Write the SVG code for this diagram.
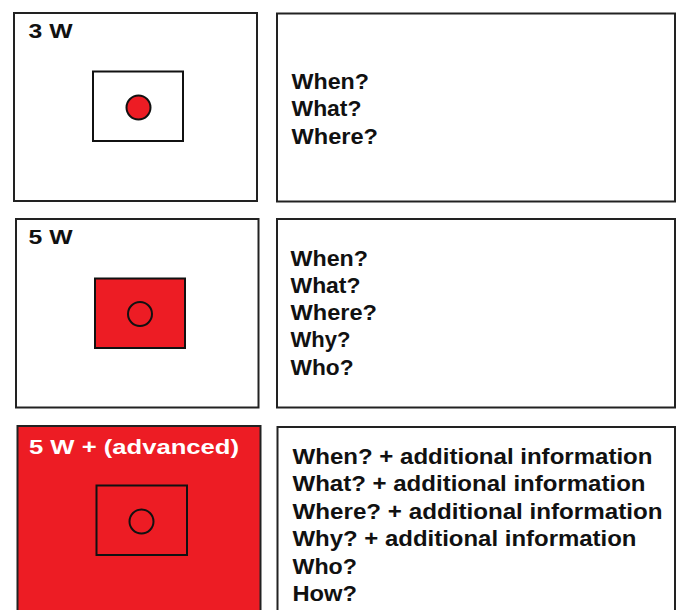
<svg xmlns="http://www.w3.org/2000/svg" width="684" height="610" viewBox="0 0 684 610">
<style>
.frame{fill:#fff;stroke:#222;stroke-width:2}
.red{fill:#ED1C24}
.inner{stroke:#111;stroke-width:2}
.t{font-family:"Liberation Sans",Arial,sans-serif;font-weight:bold;font-size:22.5px;fill:#111}
.t3{font-size:22px}
.lbl{font-family:"Liberation Sans",Arial,sans-serif;font-weight:bold;font-size:21px;fill:#111}
.w{fill:#fff}
</style>
<rect width="684" height="610" fill="#fff"/>
<g id="panel1-left">
<rect class="frame" x="14" y="13" width="243" height="188"/>
<text class="lbl" x="28.5" y="37.5" textLength="44" lengthAdjust="spacingAndGlyphs">3 W</text>
<rect class="inner" x="93" y="71.5" width="90" height="69.5" fill="#fff"/>
<circle class="red inner" cx="138.5" cy="107.5" r="12"/>
</g>
<g id="panel1-right">
<rect class="frame" x="277" y="13.5" width="398" height="188"/>
<text class="t" x="291.5" y="88.5" textLength="77.5" lengthAdjust="spacingAndGlyphs">When?</text>
<text class="t" x="291.5" y="116" textLength="70" lengthAdjust="spacingAndGlyphs">What?</text>
<text class="t" x="291.5" y="143.5" textLength="86.5" lengthAdjust="spacingAndGlyphs">Where?</text>
</g>
<g id="panel2-left">
<rect class="frame" x="16" y="219" width="242.5" height="188.5"/>
<text class="lbl" x="28.5" y="244" textLength="44" lengthAdjust="spacingAndGlyphs">5 W</text>
<rect class="red inner" x="95" y="278.5" width="90" height="69.5"/>
<circle class="inner" cx="140" cy="314" r="12" fill="none"/>
</g>
<g id="panel2-right">
<rect class="frame" x="277" y="219" width="398" height="188.5"/>
<text class="t" x="290.5" y="265.5" textLength="77.5" lengthAdjust="spacingAndGlyphs">When?</text>
<text class="t" x="290.5" y="293" textLength="70" lengthAdjust="spacingAndGlyphs">What?</text>
<text class="t" x="290.5" y="320.3" textLength="86.5" lengthAdjust="spacingAndGlyphs">Where?</text>
<text class="t" x="290.5" y="347" textLength="60" lengthAdjust="spacingAndGlyphs">Why?</text>
<text class="t" x="290.5" y="374.5" textLength="63" lengthAdjust="spacingAndGlyphs">Who?</text>
</g>
<g id="panel3-left">
<rect class="red" x="17.5" y="426" width="243" height="200" stroke="#222" stroke-width="2"/>
<text class="lbl w" x="29" y="454" textLength="210" lengthAdjust="spacingAndGlyphs">5 W + (advanced)</text>
<rect class="inner" x="96.5" y="485.5" width="90.5" height="69.5" fill="none"/>
<circle class="inner" cx="141.5" cy="521.5" r="12" fill="none"/>
</g>
<g id="panel3-right">
<rect class="frame" x="277.5" y="427" width="397.5" height="200"/>
<text class="t t3" x="292.5" y="463.5" textLength="360" lengthAdjust="spacingAndGlyphs">When? + additional information</text>
<text class="t t3" x="292.5" y="491" textLength="353" lengthAdjust="spacingAndGlyphs">What? + additional information</text>
<text class="t t3" x="292.5" y="518.5" textLength="370" lengthAdjust="spacingAndGlyphs">Where? + additional information</text>
<text class="t t3" x="292.5" y="546" textLength="344" lengthAdjust="spacingAndGlyphs">Why? + additional information</text>
<text class="t t3" x="292.5" y="573.5" textLength="64.5" lengthAdjust="spacingAndGlyphs">Who?</text>
<text class="t t3" x="292.5" y="601" textLength="64.5" lengthAdjust="spacingAndGlyphs">How?</text>
</g>
<g id="connectors"/>
</svg>
